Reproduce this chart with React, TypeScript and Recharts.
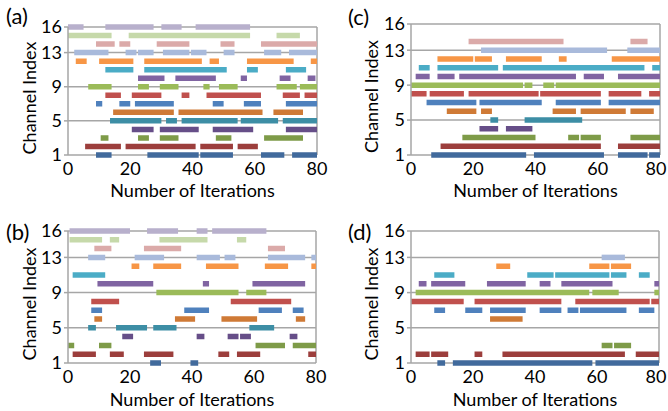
import { LineChart, Line, XAxis, YAxis, CartesianGrid, ReferenceLine } from 'recharts';

type Seg = [number, number];

const channels = [1, 2, 3, 4, 5, 6, 7, 8, 9, 10, 11, 12, 13, 14, 15, 16];
const yTicks = [1, 5, 9, 13, 16];
const xTicks = [0, 20, 40, 60, 80];

// one colour per channel, channel 1 first
const channelColors = [
  '#416a9c', '#9c3e3c', '#7e9b48', '#664e88', '#3d8ea5', '#cf7a36', '#4f81bd', '#c0504d',
  '#9bbb59', '#8064a2', '#4bacc6', '#f79646', '#a9badb', '#dbaaa9', '#c6d9aa', '#b8b0cc',
];

// busy intervals [start, end] per channel (index 0 = channel 1)
const panelA: Seg[][] = [
  [[9, 14], [25.5, 42], [42.5, 53], [62, 69.5], [72, 80]],
  [[5.5, 17], [18.5, 41], [42.5, 53], [54.5, 61]],
  [[10.5, 13], [22.5, 26], [29.5, 35.5], [47.5, 52.5], [63, 75.5]],
  [[20.5, 27.5], [29.5, 42], [46.5, 59.5], [70, 80]],
  [[13.5, 30], [31.5, 35], [36.5, 54.5], [55.5, 67.5], [69, 80]],
  [[14.5, 34], [35.5, 62.5], [66, 75.5]],
  [[9, 11], [16.5, 20], [21.5, 34], [46.5, 50], [56.5, 62], [70, 80]],
  [[12, 17], [20.5, 30], [36.5, 39], [44.5, 62], [69, 74.5], [76, 80]],
  [[6.5, 14], [22.5, 26], [29.5, 35.5], [43.5, 45.5], [48.5, 54.5], [67, 73.5], [74.5, 80]],
  [[22.5, 31], [34.5, 47.5], [55.5, 57.5], [68, 71.5], [77, 79.5]],
  [[12, 21], [24.5, 51], [57.5, 61], [70, 76.5]],
  [[2.5, 6], [10, 21], [24.5, 43], [45.5, 48.5], [57.5, 72.5], [78, 80]],
  [[2, 13], [18.5, 22], [22.5, 27.5], [30.5, 39], [39.5, 44.5], [50, 53.5], [63, 68.5], [71, 80]],
  [[9, 15], [16.5, 20], [28.5, 39], [49, 53.5], [62, 80]],
  [[0, 14], [19.5, 58.5], [67, 74.5]],
  [[0, 5], [12, 27.5], [30, 36.5], [41, 58.5]],
];

const panelB: Seg[][] = [
  [[26.5, 30], [39.5, 42]],
  [[1.5, 9], [13.5, 18], [24.5, 34], [48.5, 52], [54.5, 62], [77.5, 80]],
  [[0, 2], [10, 14], [60.5, 70], [72.5, 80]],
  [[17.5, 21], [41.5, 44], [51.5, 55], [55.5, 59], [71.5, 74]],
  [[6.5, 9], [15.5, 25.5], [27.5, 35], [58.5, 66.5]],
  [[8.5, 11], [34.5, 41], [49.5, 61], [73.5, 76.5]],
  [[7.5, 11], [37.5, 45.5], [61.5, 69], [72.5, 76]],
  [[7.5, 16.5], [52.5, 72]],
  [[28.5, 55], [57.5, 64]],
  [[9.5, 27.5], [43.5, 45.5], [59.5, 76.5]],
  [[1.5, 12]],
  [[20.5, 23], [27.5, 36.5], [44.5, 55], [63.5, 71], [78.5, 80]],
  [[6.5, 12], [21.5, 31], [41.5, 49], [50.5, 54], [64.5, 76.5], [78.5, 80]],
  [[8.5, 14], [24.5, 36.5], [64.5, 70]],
  [[0.5, 11], [13.5, 16.5], [29.5, 45], [54.5, 57.5]],
  [[0.5, 20], [25.5, 35.5], [41.5, 45], [46.5, 64]],
];

const panelC: Seg[][] = [
  [[6.5, 37], [39.5, 62], [66.5, 76], [76.5, 80]],
  [[9.5, 61], [66.5, 80]],
  [[16.5, 40], [50.5, 54], [54.5, 61], [70.5, 80]],
  [[22, 28], [30.5, 39]],
  [[25.5, 28], [36.5, 55]],
  [[11.5, 21], [22.5, 26], [45.5, 53], [54.5, 69], [70.5, 78]],
  [[5, 21], [22, 42], [46.5, 61], [63.5, 80]],
  [[0, 5], [6, 17], [18.5, 41], [41.5, 61], [63.5, 74], [76.5, 80]],
  [[0, 36], [36.5, 39], [42.5, 46], [46.5, 80]],
  [[1.5, 6], [8.5, 14], [15.5, 53], [55.5, 62], [66.5, 80]],
  [[2.5, 6], [8.5, 28], [29.5, 75], [77.5, 80]],
  [[8.5, 20], [20.5, 26], [30.5, 42], [47.5, 50], [64.5, 80]],
  [[22.5, 63], [69.5, 80]],
  [[18.5, 49], [70.5, 76]],
  [],
  [],
];

const panelD: Seg[][] = [
  [[8.5, 11], [13.5, 58.5], [59.5, 80]],
  [[1.5, 6], [6.5, 12], [20.5, 23], [29.5, 69], [72.5, 80]],
  [[61.5, 65], [65.5, 71]],
  [],
  [],
  [[25.5, 36]],
  [[7.5, 11], [17.5, 23], [25.5, 37], [41.5, 48.5], [50.5, 54], [54.5, 69.5], [73.5, 78.5]],
  [[0, 17], [20.5, 48.5], [53, 77], [77.5, 80]],
  [[1.5, 57.5], [58.5, 67], [78.5, 80]],
  [[2.5, 5], [6.5, 17.5], [24.5, 37], [41.5, 45], [48.5, 65], [78.5, 80]],
  [[7.5, 14], [37.5, 46], [46.5, 64], [64.5, 69.5], [73.5, 77]],
  [[27.5, 32], [57.5, 64], [64.5, 71]],
  [[61.5, 69]],
  [],
  [],
  [],
];

const FONT = 'Lato, "Open Sans", sans-serif';
const GRID = '#a6a6a6';
const CHART_W = 334;

// null after each interval breaks the line between intervals
function rowData(segs: Seg[], ch: number) {
  return segs.flatMap(([s, e]) => [
    { x: s, y: ch },
    { x: e, y: ch },
    { x: e, y: null },
  ]);
}

// x tick that keeps the last label inside the chart box
function XTick(props: any) {
  const { x, y, payload, maxX } = props;
  const tx = Math.min(x, maxX);
  return (
    <text x={tx} y={y} dy="0.71em" textAnchor="middle" fill="#000" fontSize={18} fontFamily={FONT}>
      {payload.value}
    </text>
  );
}

interface PanelProps {
  tag: string;
  rows: Seg[][];
  left: number;
  top: number;
  height: number;
  plotTop: number;
  plotRight: number;
  yAxisWidth: number;
  yTitleOffset: number;
  xAxisHeight: number;
  xTitleOffset: number;
  tagLeft: number;
  tagTop: number;
}

function Panel({
  tag, rows, left, top, height, plotTop, plotRight, yAxisWidth, yTitleOffset, xAxisHeight, xTitleOffset, tagLeft, tagTop,
}: PanelProps) {
  return (
    <div style={{ position: 'absolute', left, top, width: CHART_W, height }}>
      <LineChart width={CHART_W} height={height} margin={{ top: plotTop, right: plotRight, bottom: 0, left: 0 }}>
        <CartesianGrid vertical={false} stroke={GRID} strokeWidth={1.5} />
        <XAxis
          type="number"
          dataKey="x"
          domain={[0, 80]}
          ticks={xTicks}
          interval={0}
          height={xAxisHeight}
          tickLine={false}
          tickSize={6}
          tickMargin={1}
          axisLine={false}
          tick={<XTick maxX={CHART_W - 12} />}
          label={{ value: 'Number of Iterations', position: 'insideBottom', offset: xTitleOffset, fill: '#000', fontSize: 18, fontFamily: FONT }}
        />
        <YAxis
          type="number"
          domain={[1, 16]}
          ticks={yTicks}
          interval={0}
          width={yAxisWidth}
          tickSize={4}
          tickMargin={2}
          tickLine={{ stroke: GRID, strokeWidth: 1.5 }}
          axisLine={{ stroke: GRID, strokeWidth: 1.5 }}
          tick={{ fill: '#000', fontSize: 18, fontFamily: FONT }}
          label={{
            value: 'Channel Index',
            angle: -90,
            position: 'insideLeft',
            offset: yTitleOffset,
            dy: 7,
            fill: '#000',
            fontSize: 18,
            fontFamily: FONT,
            style: { textAnchor: 'middle' },
          }}
        />
        <ReferenceLine x={80} stroke={GRID} strokeWidth={1.5} />
        {rows.map((segs, i) =>
          segs.length ? (
            <Line
              key={i}
              data={rowData(segs, channels[i])}
              dataKey="y"
              stroke={channelColors[i]}
              strokeWidth={5.5}
              dot={false}
              activeDot={false}
              connectNulls={false}
              isAnimationActive={false}
            />
          ) : null,
        )}
      </LineChart>
      <span
        style={{
          position: 'absolute',
          left: tagLeft,
          top: tagTop,
          fontFamily: FONT,
          fontSize: 22,
          lineHeight: '22px',
          color: '#000',
        }}
      >
        {tag}
      </span>
    </div>
  );
}

export default function App() {
  return (
    <div style={{ position: 'absolute', left: 0, top: 0, width: 668, height: 411, background: '#fff' }}>
      <Panel tag="(a)" rows={panelA} left={0} top={0} height={205} plotTop={27} plotRight={17}
        yAxisWidth={68} yTitleOffset={30} xAxisHeight={50} xTitleOffset={8} tagLeft={6} tagTop={5} />
      <Panel tag="(c)" rows={panelC} left={334} top={0} height={205} plotTop={24} plotRight={8}
        yAxisWidth={77} yTitleOffset={38} xAxisHeight={50} xTitleOffset={8} tagLeft={14} tagTop={6} />
      <Panel tag="(b)" rows={panelB} left={0} top={205} height={206} plotTop={26} plotRight={18}
        yAxisWidth={68} yTitleOffset={30} xAxisHeight={48} xTitleOffset={5} tagLeft={6} tagTop={16} />
      <Panel tag="(d)" rows={panelD} left={334} top={205} height={206} plotTop={26} plotRight={9}
        yAxisWidth={77} yTitleOffset={38} xAxisHeight={48} xTitleOffset={5} tagLeft={14} tagTop={16} />
    </div>
  );
}
